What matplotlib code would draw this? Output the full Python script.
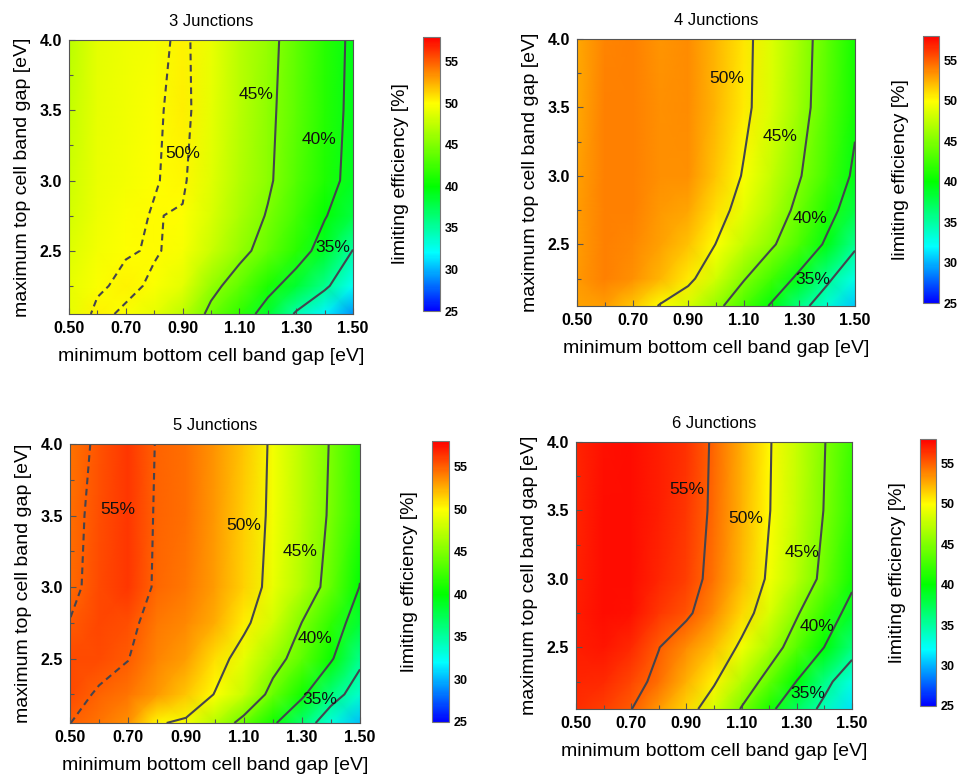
import matplotlib
matplotlib.use('Agg')
import matplotlib.pyplot as plt
from matplotlib.colors import LinearSegmentedColormap

plt.rcParams['font.family'] = ['Liberation Sans', 'DejaVu Sans']

# band gap grid (eV)
bottom_gap = [0.5, 0.6, 0.7, 0.8, 0.9, 1.0, 1.1, 1.2, 1.3, 1.4, 1.5]
top_gap = [2.05, 2.25, 2.5, 2.75, 3.0, 3.5, 4.0]

# limiting efficiency [%], one row per top gap (bottom row first)
eff_3j = [
    [49.0, 50.3, 49.8, 49.0, 47.4, 44.3, 41.8, 38.6, 34.6, 31.8, 29.0],
    [49.0, 49.8, 50.3, 49.8, 48.9, 45.8, 43.7, 41.0, 38.5, 35.6, 32.3],
    [48.6, 49.5, 49.9, 50.1, 49.7, 47.9, 45.8, 43.9, 41.5, 38.7, 34.9],
    [48.3, 49.3, 49.8, 50.05, 49.9, 48.5, 46.6, 44.8, 42.6, 40.2, 38.0],
    [48.0, 49.2, 49.6, 49.95, 50.2, 48.8, 47.0, 45.4, 43.3, 41.2, 39.0],
    [47.6, 49.0, 49.4, 49.8, 50.4, 49.1, 47.3, 45.6, 43.6, 41.4, 39.3],
    [47.3, 48.9, 49.3, 49.6, 50.3, 49.2, 47.2, 45.8, 43.8, 41.6, 39.4],
]
eff_4j = [
    [52.8, 53.0, 51.8, 49.8, 48.4, 45.8, 42.9, 39.6, 35.9, 33.4, 30.5],
    [53.2, 53.9, 53.4, 52.3, 50.6, 48.2, 45.2, 42.5, 39.2, 35.5, 32.8],
    [53.1, 54.0, 53.7, 52.9, 51.9, 49.95, 47.6, 45.4, 42.8, 39.4, 35.5],
    [53.0, 54.0, 53.9, 53.2, 52.8, 51.0, 49.0, 46.8, 44.2, 41.3, 38.0],
    [52.9, 54.0, 54.0, 53.4, 53.4, 51.8, 49.8, 47.6, 45.2, 42.6, 39.4],
    [52.7, 53.9, 54.0, 53.4, 53.6, 52.2, 50.6, 48.5, 46.1, 43.4, 40.6],
    [52.6, 53.8, 53.9, 53.3, 53.6, 52.3, 50.7, 48.6, 46.3, 43.6, 40.8],
]
eff_5j = [
    [55.02, 54.3, 53.4, 50.2, 49.6, 47.0, 44.0, 40.5, 36.6, 33.2, 30.2],
    [55.6, 54.8, 54.3, 53.2, 51.8, 49.9, 47.7, 44.0, 40.6, 36.2, 33.6],
    [55.6, 55.6, 55.05, 53.8, 53.0, 51.0, 49.0, 46.2, 43.6, 40.4, 35.6],
    [55.05, 55.8, 55.5, 54.2, 53.7, 52.5, 50.5, 48.3, 44.95, 41.8, 38.3],
    [54.6, 55.6, 56.3, 54.7, 54.2, 53.0, 51.3, 49.2, 46.9, 43.9, 39.9],
    [54.5, 55.5, 56.3, 54.8, 54.4, 53.2, 51.5, 49.5, 47.2, 44.6, 41.6],
    [54.3, 55.3, 56.2, 54.9, 54.5, 53.3, 51.7, 49.6, 47.3, 44.8, 41.8],
]
eff_6j = [
    [56.5, 56.0, 55.05, 53.2, 51.2, 48.4, 44.8, 40.9, 37.0, 34.2, 31.3],
    [56.8, 56.6, 55.7, 54.5, 52.4, 50.3, 47.0, 43.8, 39.9, 35.9, 32.9],
    [57.0, 57.3, 56.7, 55.05, 53.6, 52.0, 49.5, 46.6, 43.4, 39.95, 36.2],
    [57.0, 57.5, 57.4, 56.3, 55.4, 53.6, 51.2, 48.5, 45.3, 42.1, 38.7],
    [56.9, 57.5, 57.6, 56.8, 56.0, 54.3, 52.1, 49.6, 47.1, 44.2, 40.8],
    [56.8, 57.5, 57.6, 57.0, 56.3, 54.6, 52.4, 50.1, 47.6, 44.9, 42.0],
    [56.8, 57.4, 57.6, 57.0, 56.4, 54.7, 52.5, 50.2, 47.7, 45.1, 42.3],
]

titles = ['3 Junctions', '4 Junctions', '5 Junctions', '6 Junctions']
levels = [35, 40, 45, 50, 55]
dashed_level = [50, None, 55, None]

# contour label text and where it sits (bottom gap, top gap)
labels_3j = [('50%', 0.90, 3.19), ('45%', 1.16, 3.61), ('40%', 1.38, 3.29), ('35%', 1.43, 2.52)]
labels_4j = [('50%', 1.04, 3.71), ('45%', 1.23, 3.29), ('40%', 1.34, 2.69), ('35%', 1.35, 2.24)]
labels_5j = [('55%', 0.665, 3.54), ('50%', 1.10, 3.43), ('45%', 1.295, 3.25), ('40%', 1.345, 2.64), ('35%', 1.36, 2.215)]
labels_6j = [('55%', 0.90, 3.65), ('50%', 1.115, 3.44), ('45%', 1.32, 3.19), ('40%', 1.375, 2.65), ('35%', 1.34, 2.165)]

cmap = LinearSegmentedColormap.from_list('eff', [
    (0.0, (0.0, 0.0, 1.0)),
    (7 / 33, (0.0, 1.0, 1.0)),
    (15 / 33, (0.0, 1.0, 0.0)),
    (25 / 33, (1.0, 1.0, 0.0)),
    (1.0, (1.0, 0.0, 0.0)),
])

ax_boxes = [[0.0719, 0.5959, 0.2958, 0.3526], [0.601, 0.6062, 0.2896, 0.3436],
            [0.0729, 0.0695, 0.3021, 0.3591], [0.600, 0.0875, 0.2875, 0.3436]]
cb_boxes = [[0.4406, 0.5997, 0.0177, 0.3527], [0.9615, 0.610, 0.0167, 0.3436],
            [0.4500, 0.0708, 0.0177, 0.3616], [0.9583, 0.0914, 0.0167, 0.3436]]

fig = plt.figure(figsize=(9.6, 7.77), dpi=100)
line_col = '#44444e'

panels = [eff_3j, eff_4j, eff_5j, eff_6j]
panel_labels = [labels_3j, labels_4j, labels_5j, labels_6j]
for k in range(4):
    ax = fig.add_axes(ax_boxes[k])
    cax = fig.add_axes(cb_boxes[k])
    mesh = ax.pcolormesh(bottom_gap, top_gap, panels[k], shading='gouraud',
                         cmap=cmap, vmin=25, vmax=58)
    styles = [(0, (3.2, 2.2)) if lv == dashed_level[k] else 'solid' for lv in levels]
    ax.contour(bottom_gap, top_gap, panels[k], levels=levels, colors=line_col,
               linewidths=1.5, linestyles=styles)
    for txt, xx, yy in panel_labels[k]:
        ax.text(xx, yy, txt, fontsize=12.5, ha='center', va='center', color='#111111')
    ax.set_xlim(0.5, 1.5)
    ax.set_ylim(2.05, 4.0)
    ax.set_xticks([0.5, 0.7, 0.9, 1.1, 1.3, 1.5])
    ax.set_xticklabels(['0.50', '0.70', '0.90', '1.10', '1.30', '1.50'], fontweight='bold')
    ax.set_xticks([0.6, 0.8, 1.0, 1.2, 1.4], minor=True)
    ax.set_yticks([2.5, 3.0, 3.5, 4.0])
    ax.set_yticklabels(['2.5', '3.0', '3.5', '4.0'], fontweight='bold')
    ax.set_yticks([2.25, 2.75, 3.25, 3.75], minor=True)
    ax.tick_params(which='both', direction='in', labelsize=11.5, color='#555555')
    ax.tick_params(which='major', length=4, width=0.8, pad=5)
    ax.tick_params(which='minor', length=3, width=0.8)
    for s in ax.spines.values():
        s.set_color('#555555')
        s.set_linewidth(0.8)
    ax.set_title(titles[k], fontsize=12, pad=10)
    ax.set_xlabel('minimum bottom cell band gap [eV]', fontsize=14, labelpad=9)
    ax.set_ylabel('maximum top cell band gap [eV]', fontsize=14, labelpad=6)

    cb = fig.colorbar(mesh, cax=cax)
    cb.set_ticks([25, 30, 35, 40, 45, 50, 55])
    cb.set_ticklabels(['25', '30', '35', '40', '45', '50', '55'], fontweight='bold')
    cax.tick_params(length=0, labelsize=9, pad=3.5)
    cb.outline.set_edgecolor('#777777')
    cb.outline.set_linewidth(0.8)
    cb.set_label('limiting efficiency [%]', fontsize=14)
    cax.yaxis.set_label_position('left')
    cax.yaxis.labelpad = 10

fig.savefig('out.png', dpi=100)
